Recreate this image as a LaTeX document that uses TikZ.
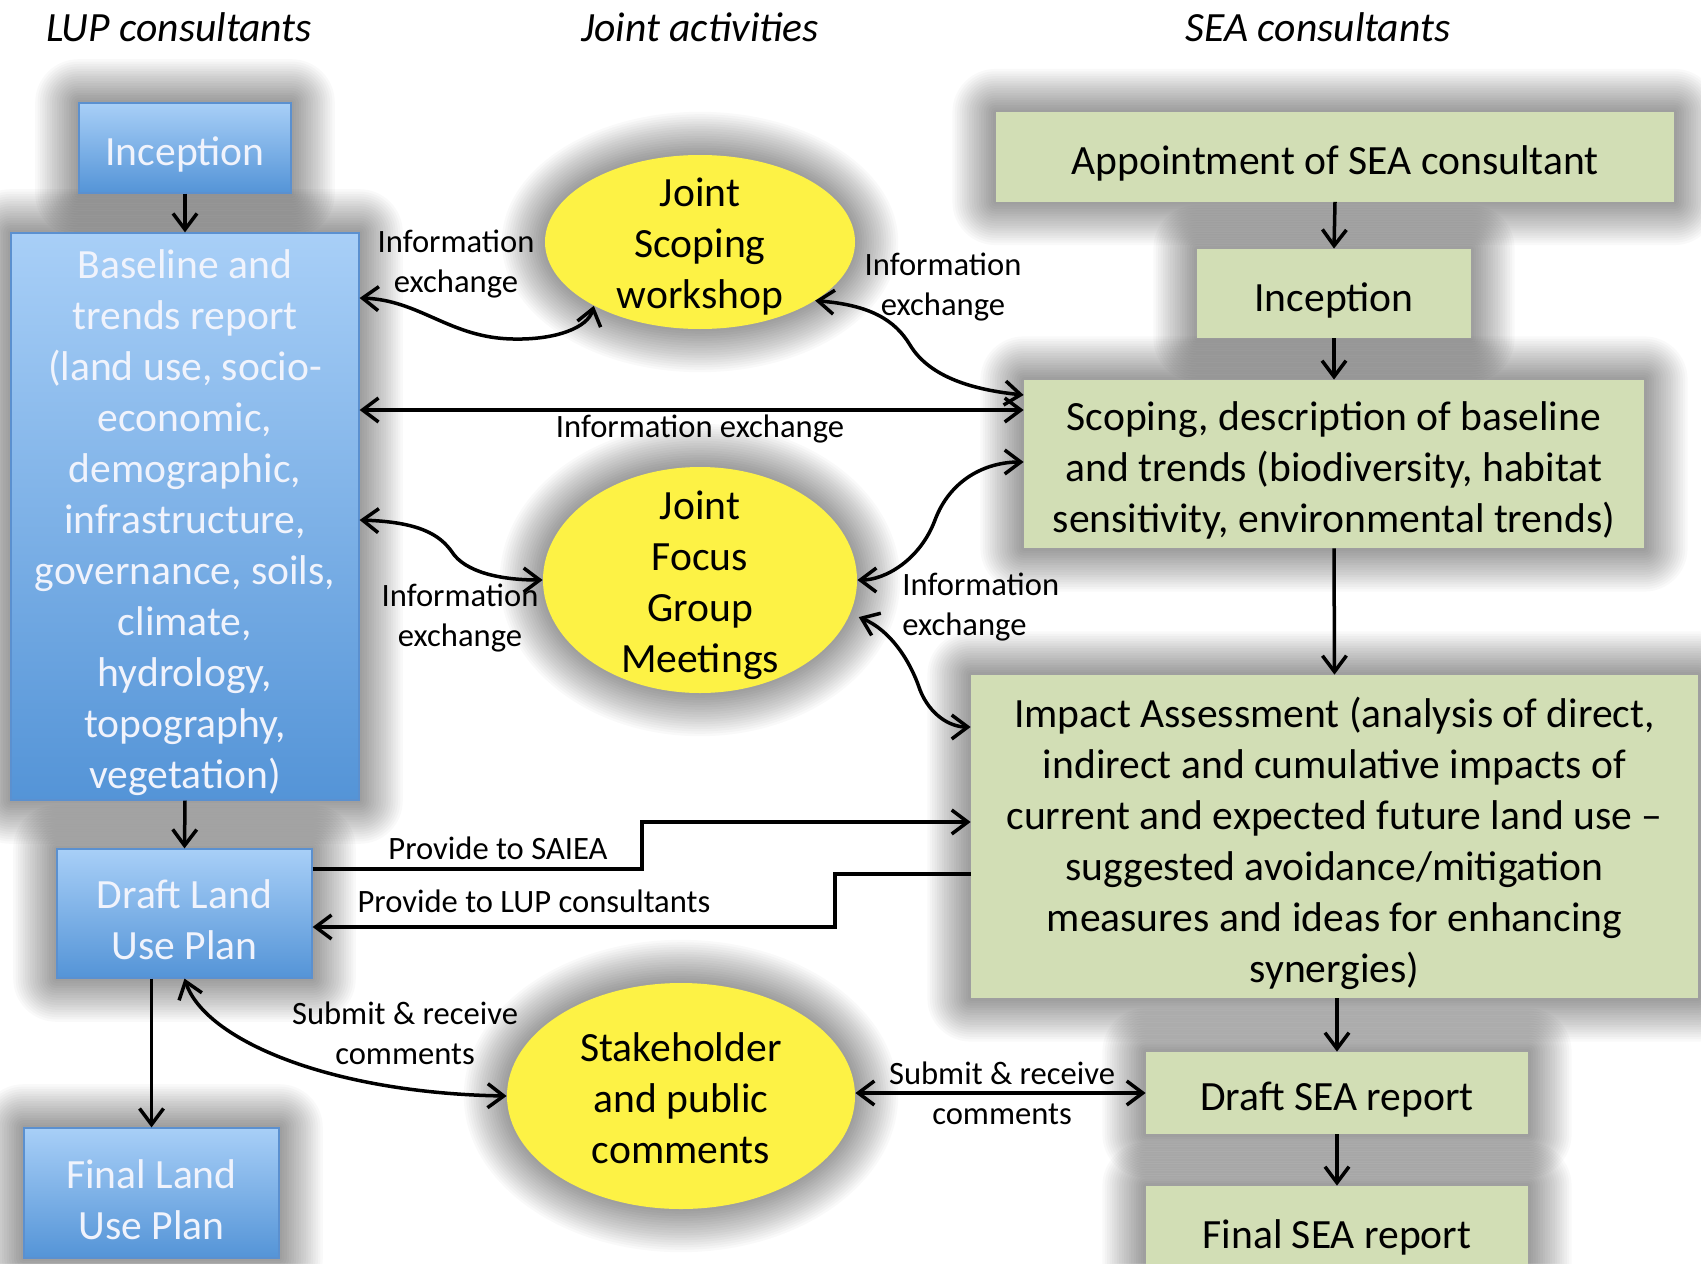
\documentclass[tikz,border=0pt]{standalone}
\usepackage{fontspec}
\setmainfont{Carlito}
\usetikzlibrary{arrows.meta,shapes.geometric,backgrounds,calc}
\definecolor{bluetop}{HTML}{A8CFF7}
\definecolor{bluebot}{HTML}{5494D7}
\definecolor{blueedge}{HTML}{5B90CF}
\definecolor{bluetext}{HTML}{F0F3FC}
\definecolor{seagreen}{HTML}{D2DEB5}
\definecolor{jointyellow}{HTML}{FDF245}
\begin{document}
\begin{tikzpicture}[x=0.5pt,y=-0.5pt,
  bigfont/.style={font=\fontsize{20.8}{25.5}\selectfont},
  smallfont/.style={font=\fontsize{16.3}{20}\selectfont},
  lupbox/.style={rectangle,top color=bluetop,bottom color=bluebot,draw=blueedge,line width=0.6pt,inner sep=0pt},
  luptext/.style={bigfont,align=center,text=bluetext,yshift=-3.3pt},
  seabox/.style={rectangle,fill=seagreen,inner sep=0pt},
  seatext/.style={bigfont,align=center,yshift=-3.3pt},
  jointell/.style={ellipse,fill=jointyellow,inner sep=0pt},
  jtext/.style={bigfont,align=center,yshift=-2.5pt},
  lbl/.style={smallfont,align=center,inner sep=0pt},
  hdr/.style={font=\fontsize{20.8}{25.5}\selectfont\itshape,anchor=base},
  shadowlayer/.style={black,opacity=0.022},
  flow/.style={line width=1.75pt,-{Straight Barb[length=8pt,width=12pt]}},
  biflow/.style={line width=1.75pt,{Straight Barb[length=8pt,width=12pt]}-{Straight Barb[length=8pt,width=12pt]}}
]
\useasboundingbox (0,0) rectangle (1701,1263);

% headers
\node[hdr] (hlup) at (179,42) {LUP consultants};
\node[hdr] (hjoint) at (700,42) {Joint activities};
\node[hdr] (hsea) at (1318,42) {SEA consultants};

% LUP column
\node[lupbox,minimum width=106pt,minimum height=45pt,label={[luptext]center:Inception}] (inc1) at (185,148) {};
\node[lupbox,minimum width=174pt,minimum height=283.5pt,
  label={[luptext]center:Baseline and\\trends report\\(land use, socio-\\economic,\\demographic,\\infrastructure,\\governance, soils,\\climate,\\hydrology,\\topography,\\vegetation)}] (base) at (185,516.5) {};
\node[lupbox,minimum width=127.5pt,minimum height=64.5pt,label={[luptext]center:Draft Land\\Use Plan}] (dlup) at (184.5,913.5) {};
\node[lupbox,minimum width=127.5pt,minimum height=65pt,label={[luptext]center:Final Land\\Use Plan}] (flup) at (151.5,1193) {};

% SEA column
\node[seabox,minimum width=339pt,minimum height=44.5pt,label={[seatext]center:Appointment of SEA consultant}] (appt) at (1335,157) {};
\node[seabox,minimum width=137pt,minimum height=44.5pt,label={[seatext]center:Inception}] (inc2) at (1334,293.5) {};
\node[seabox,minimum width=310pt,minimum height=84pt,
  label={[seatext]center:Scoping, description of baseline\\and trends (biodiversity, habitat\\sensitivity, environmental trends)}] (scop) at (1334,464) {};
\node[seabox,minimum width=363.5pt,minimum height=161.5pt,
  label={[seatext]center:Impact Assessment (analysis of direct,\\indirect and cumulative impacts of\\current and expected future land use --\\suggested avoidance/mitigation\\measures and ideas for enhancing\\synergies)}] (imp) at (1334.5,836.5) {};
\node[seabox,minimum width=191pt,minimum height=41pt,label={[seatext]center:Draft SEA report}] (dsea) at (1337,1093) {};
\node[seabox,minimum width=191pt,minimum height=45pt,label={[seatext]center:Final SEA report}] (fsea) at (1337,1231) {};

% joint activities
\node[jointell,minimum width=155pt,minimum height=87pt,label={[jtext]center:Joint\\Scoping\\workshop}] (jsw) at (700,242) {};
\node[jointell,minimum width=157pt,minimum height=113pt,label={[jtext]center:Joint\\Focus\\Group\\Meetings}] (jfg) at (700,580) {};
\node[jointell,minimum width=174pt,minimum height=113pt,label={[jtext,yshift=1.5pt]center:Stakeholder\\and public\\comments}] (stk) at (681,1096) {};

% soft shadows and white page, behind everything
\begin{scope}[on background layer]
  \fill[white] (0,0) rectangle (1701,1263);
  \foreach \n in {inc1,base,dlup,flup,appt,inc2,scop,imp,dsea,fsea}{
    \foreach \s [evaluate=\s as \d using \s*1.2] in {1,...,18}{
      \fill[shadowlayer,rounded corners=\d pt]
        ([shift={(-\d pt,\d pt)}]\n.north west) rectangle ([shift={(\d pt,-\d pt)}]\n.south east);
    }
  }
  \foreach \n/\a/\b in {jsw/77.5/43.5,jfg/78.5/56.5,stk/87/56.5}{
    \foreach \s [evaluate=\s as \ra using \a+\s*1.2, evaluate=\s as \rb using \b+\s*1.2] in {1,...,18}{
      \fill[shadowlayer] (\n.center) ellipse [x radius=\ra pt, y radius=\rb pt];
    }
  }
\end{scope}

% helper levels
\coordinate (y298) at (0,298);
\coordinate (y395) at (0,395);
\coordinate (y410) at (0,410);
\coordinate (y462) at (0,462);
\coordinate (y520) at (0,520);
\coordinate (y727) at (0,727);
\coordinate (y822) at (0,822);
\coordinate (y869) at (0,869);
\coordinate (y874) at (0,874);
\coordinate (y927) at (0,927);

% labels
\node[lbl] (l1) at (456,264.5) {Information\\exchange};
\node[lbl] (l2) at (943,287) {Information\\exchange};
\node[lbl] (l3) at (700,429) {Information exchange};
\node[lbl] (l4) at (460,618) {Information\\exchange};
\node[lbl,align=left,anchor=west] (l5) at (902,607) {Information\\exchange};
\node[lbl] (l6) at (498,848) {Provide to SAIEA};
\node[lbl] (l7) at (534,901) {Provide to LUP consultants};
\node[lbl] (l8) at (405,1033) {Submit \& receive\\comments};
\node[lbl] (l9) at (1002,1093) {Submit \& receive\\comments};

% vertical flows
\draw[flow] (inc1.south) -- (base.north);
\draw[flow] (base.south) -- (dlup.north);
\draw[flow] (flup.north |- dlup.south) -- (flup.north);
\draw[flow] (appt.south) -- (inc2.north);
\draw[flow] (inc2.south) -- (scop.north);
\draw[flow] (scop.south) -- (imp.north);
\draw[flow] (dsea.north |- imp.south) -- (dsea.north);
\draw[flow] (dsea.south) -- (fsea.north);

% information exchanges
\draw[biflow] (base.east |- y410) -- (scop.west |- y410);
\draw[biflow] (base.east |- y298) .. controls (420,300) and (450,338) .. (513,339)
  .. controls (555,340) and (588,328) .. (jsw.211);
\draw[biflow] (jsw.-27) .. controls (870,305) and (895,320) .. (910,345)
  .. controls (930,378) and (975,390) .. (scop.west |- y395);
\draw[biflow] (base.east |- y520) .. controls (420,522) and (440,535) .. (452,552)
  .. controls (465,572) and (500,580) .. (jfg.west);
\draw[biflow] (jfg.east) .. controls (885,580) and (920,560) .. (935,520)
  .. controls (950,480) and (985,462) .. (scop.west |- y462);
\draw[biflow] ([xshift=5pt]jfg.-14) .. controls (890,630) and (910,660) .. (920,690)
  .. controls (930,715) and (950,727) .. (imp.west |- y727);

% provide to ...
\draw[flow] (dlup.east |- y869) -- (642,869) -- (642,822) -- (imp.west |- y822);
\draw[flow] (imp.west |- y874) -- (835,874) -- (835,927) -- (dlup.east |- y927);

% comments
\draw[biflow] (dlup.south) .. controls (205,1040) and (330,1093) .. (stk.west);
\draw[biflow] (stk.east |- dsea.west) -- (dsea.west);
\end{tikzpicture}
\end{document}
